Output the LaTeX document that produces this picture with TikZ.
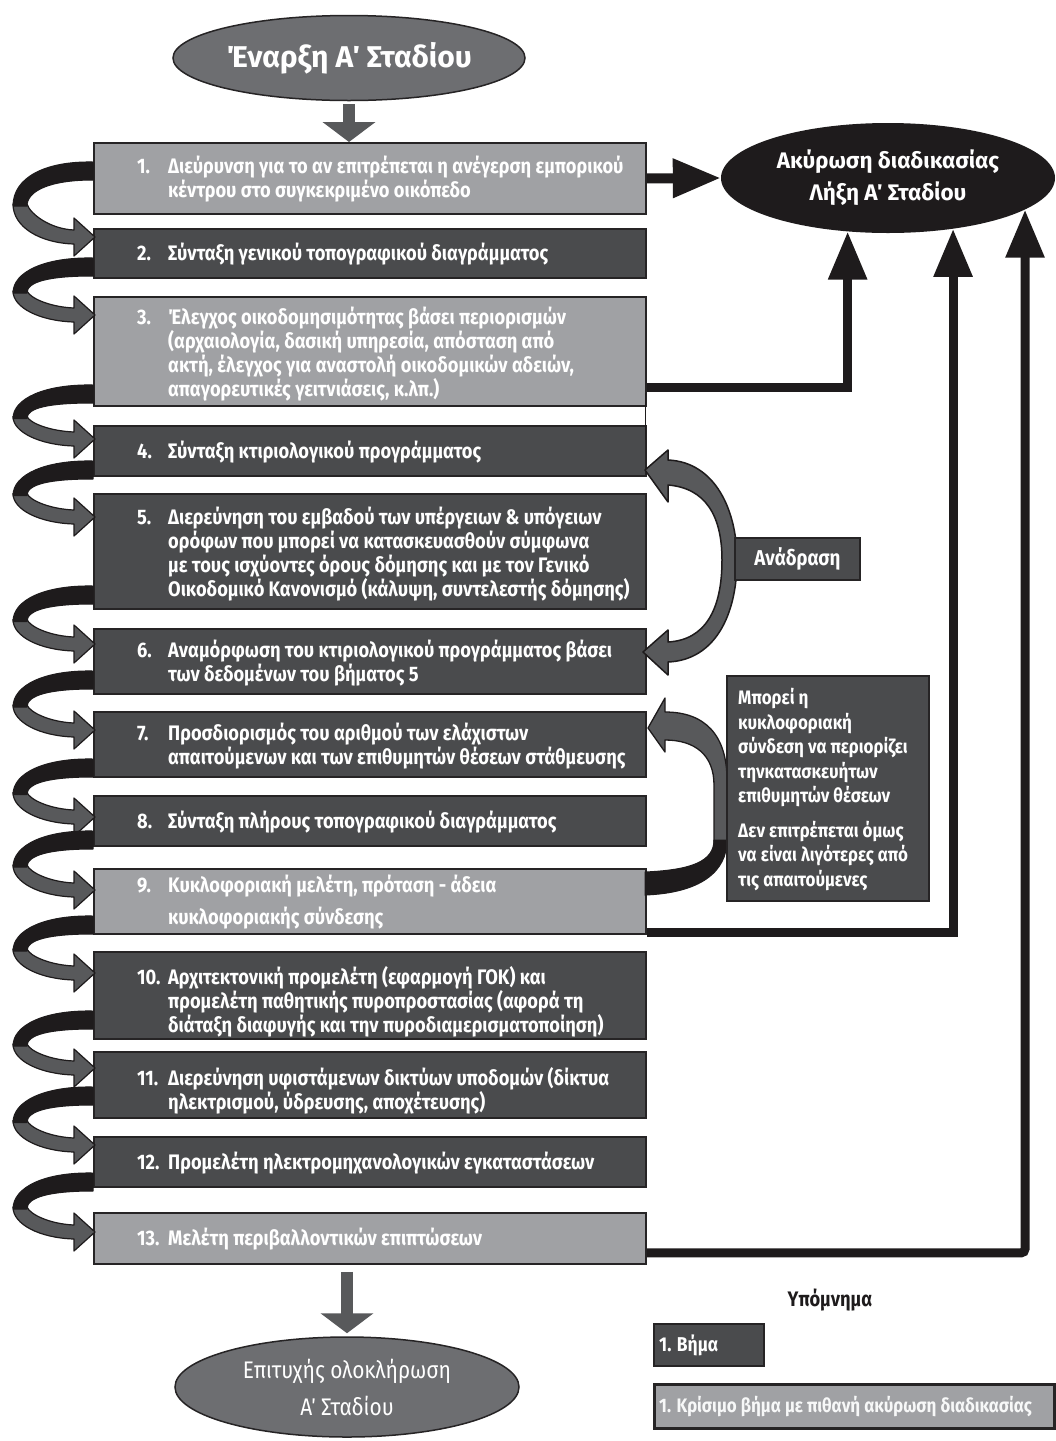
\documentclass[tikz,border=0pt]{standalone}
\usepackage{fontspec}
\setmainfont{Fira Sans}[FakeStretch=0.87]
\newfontfamily\plainfont{Fira Sans}
\usetikzlibrary{arrows.meta,shapes.geometric,calc}
\definecolor{lightbox}{HTML}{A0A1A4}
\definecolor{darkbox}{HTML}{4A4B4D}
\definecolor{edge}{HTML}{262425}
\definecolor{ellgray}{HTML}{6D6E71}
\definecolor{arrgray}{HTML}{58595B}
\definecolor{blk}{HTML}{1E1B1C}
\newcommand\stepnum[1]{\makebox[31pt][l]{#1}}
\newcommand\stepind{\hspace*{31pt}}
\begin{document}
\begin{tikzpicture}[x=1pt,y=-1pt,
  stepbox/.style={draw=edge, line width=1.8pt, minimum width=552pt, inner sep=0pt, anchor=north west},
  lightstep/.style={stepbox, fill=lightbox},
  darkstep/.style={stepbox, fill=darkbox},
  txt/.style={font=\bfseries\fontsize{21}{24}\selectfont, text=white, align=left, inner sep=0pt, anchor=west},
  grayarrow/.style={draw=arrgray, line width=12pt, -{Triangle[length=20pt,width=52pt]}},
  blackarrow/.style={draw=blk, line width=10pt, -{Triangle[length=48pt,width=37pt]}},
  ribbongray/.style={fill=arrgray, draw=blk, line width=1.2pt, line join=round},
  ribbonblack/.style={fill=blk, draw=blk, line width=1pt, line join=round}
]
\useasboundingbox (0,0) rectangle (1056,1441);
\fill[white] (0,0) rectangle (1056,1441);

% ellipses
\node[ellipse, draw=edge, line width=1.5pt, fill=ellgray, minimum width=352pt, minimum height=85pt, inner sep=0pt,
  text=white, font=\plainfont\bfseries\fontsize{30}{32}\selectfont] (start) at (349,58) {Έναρξη Α΄ Σταδίου};
\node[ellipse, fill=blk, minimum width=334pt, minimum height=110pt, inner sep=0pt, text=white, align=center,
  font=\plainfont\bfseries\fontsize{22.5}{32}\selectfont] (cancel) at (888,178) {Ακύρωση διαδικασίας\\Λήξη Α΄ Σταδίου};
\node[ellipse, draw=edge, line width=1.5pt, fill=ellgray, minimum width=344pt, minimum height=100pt, inner sep=0pt,
  text=white, align=center, font=\fontsize{24}{37}\selectfont] (finish) at (347,1387) {Επιτυχής ολοκλήρωση\\Α΄ Σταδίου};

% boxes
\node[lightstep, minimum height=71pt] (b1) at (93,142) {};
\node[darkstep, minimum height=49pt] (b2) at (93,228) {};
\node[lightstep, minimum height=109pt] (b3) at (93,296) {};
\node[darkstep, minimum height=50pt] (b4) at (93,425) {};
\node[darkstep, minimum height=115pt] (b5) at (93,493) {};
\node[darkstep, minimum height=65pt] (b6) at (93,628) {};
\node[darkstep, minimum height=65pt] (b7) at (93,711) {};
\node[darkstep, minimum height=50pt] (b8) at (93,795) {};
\node[lightstep, minimum height=65pt] (b9) at (93,868) {};
\node[darkstep, minimum height=87pt] (b10) at (93,951) {};
\node[darkstep, minimum height=66pt] (b11) at (93,1051) {};
\node[darkstep, minimum height=50pt] (b12) at (93,1136) {};
\node[lightstep, minimum height=51pt] (b13) at (93,1212) {};

% texts
\node[txt] (t1) at ($(b1.west)+(44,1)$) {\stepnum{1.}Διεύρυνση για το αν επιτρέπεται η ανέγερση εμπορικού\\\stepind κέντρου στο συγκεκριμένο οικόπεδο};
\node[txt] (t2) at ($(b2.west)+(44,1)$) {\stepnum{2.}Σύνταξη γενικού τοπογραφικού διαγράμματος};
\node[txt] (t3) at ($(b3.west)+(44,3)$) {\stepnum{3.}Έλεγχος οικοδομησιμότητας βάσει περιορισμών\\\stepind(αρχαιολογία, δασική υπηρεσία, απόσταση από\\\stepind ακτή, έλεγχος για αναστολή οικοδομικών αδειών,\\\stepind απαγορευτικές γειτνιάσεις, κ.λπ.)};
\node[txt] (t4) at ($(b4.west)+(44,1)$) {\stepnum{4.}Σύνταξη κτιριολογικού προγράμματος};
\node[txt] (t5) at ($(b5.west)+(44,3)$) {\stepnum{5.}Διερεύνηση του εμβαδού των υπέργειων \& υπόγειων\\\stepind ορόφων που μπορεί να κατασκευασθούν σύμφωνα\\\stepind με τους ισχύοντες όρους δόμησης και με τον Γενικό\\\stepind Οικοδομικό Κανονισμό (κάλυψη, συντελεστής δόμησης)};
\node[txt] (t6) at ($(b6.west)+(44,2)$) {\stepnum{6.}Αναμόρφωση του κτιριολογικού προγράμματος βάσει\\\stepind των δεδομένων του βήματος 5};
\node[txt] (t7) at ($(b7.west)+(44,2)$) {\stepnum{7.}Προσδιορισμός του αριθμού των ελάχιστων\\\stepind απαιτούμενων και των επιθυμητών θέσεων στάθμευσης};
\node[txt] (t8) at ($(b8.west)+(44,1)$) {\stepnum{8.}Σύνταξη πλήρους τοπογραφικού διαγράμματος};
\node[txt] (t9) at ($(b9.west)+(44,1)$) {\stepnum{9.}Κυκλοφοριακή μελέτη, πρόταση - άδεια\\[8pt]\stepind κυκλοφοριακής σύνδεσης};
\node[txt] (t10) at ($(b10.west)+(44,6)$) {\stepnum{10.}Αρχιτεκτονική προμελέτη (εφαρμογή ΓΟΚ) και\\\stepind προμελέτη παθητικής πυροπροστασίας (αφορά τη\\\stepind διάταξη διαφυγής και την πυροδιαμερισματοποίηση)};
\node[txt] (t11) at ($(b11.west)+(44,6)$) {\stepnum{11.}Διερεύνηση υφιστάμενων δικτύων υποδομών (δίκτυα\\\stepind ηλεκτρισμού, ύδρευσης, αποχέτευσης)};
\node[txt] (t12) at ($(b12.west)+(44,1)$) {\stepnum{12.}Προμελέτη ηλεκτρομηχανολογικών εγκαταστάσεων};
\node[txt] (t13) at ($(b13.west)+(44,1)$) {\stepnum{13.}Μελέτη περιβαλλοντικών επιπτώσεων};

% gray down arrows
\draw[grayarrow, shorten <=3pt] (start.south) -- (start.south |- b1.north);
\draw[grayarrow, shorten <=7pt, shorten >=3pt] (finish.north |- b13.south) -- (finish.north);

% left ribbon arrows between consecutive steps
\foreach \yb/\yt in {171/237, 267/315, 394/439, 470/517, 595/644, 680/730, 768/817, 840/890, 925/973, 1020/1068, 1096/1145, 1182/1232} {
  \pgfmathsetmacro\ymid{(\yb+\yt)/2}
  \pgfmathsetmacro\dd{\yt-\yb}
  \filldraw[ribbongray] (13,\ymid) .. controls (13,{\yt-0.15*\dd}) and (40,{\yt+6}) .. (74,{\yt+7})
    -- (74,{\yt+19}) -- (95,\yt) -- (74,{\yt-19}) -- (74,{\yt-7})
    .. controls (50,{\yt-8}) and (30,{\ymid+0.15*\dd}) .. (27,\ymid) -- cycle;
  \filldraw[ribbonblack] (93,{\yb-9}) .. controls (45,{\yb-10}) and (13,{\yb+0.1*\dd}) .. (13,{\ymid+2})
    -- (27,{\ymid+2}) .. controls (27,{\yb+0.3*\dd}) and (50,{\yb+9}) .. (93,{\yb+9}) -- cycle;
}

% cancellation arrows
\draw[blackarrow] (b1.east) -- (cancel.west);
\draw[blackarrow, line width=9pt] ($(b3.east)+(0,36.5)$) -| (cancel.-127);
\draw[blackarrow, line width=9pt] ($(b9.east)+(0,31.5)$) -| (cancel.-38);
\draw[blackarrow, line width=9pt, rounded corners=4pt] ($(b13.east)+(0,14.5)$) -| (cancel.-13);
\draw[line width=0.8pt, draw=blk] (645,393) -- (645,440);

% feedback arrow (Ανάδραση)
\filldraw[fill=arrgray, draw=blk, line width=1.5pt, line join=round]
  (668,460) .. controls (715,462) and (737,510) .. (737,560) .. controls (737,615) and (715,660) .. (668,662)
  -- (668,675) -- (643,652) -- (668,630) -- (668,642)
  .. controls (705,640) and (722,610) .. (722,560) .. controls (722,515) and (705,488) .. (668,485)
  -- (668,502) -- (645,470) -- (668,450) -- cycle;
\node[draw=edge, line width=1.5pt, fill=darkbox, minimum width=125pt, minimum height=42pt, inner sep=0pt,
  text=white, font=\bfseries\fontsize{21.5}{22}\selectfont] (fb) at (797.5,559) {Ανάδραση};

% feedback arrow from step 9 to step 7
\filldraw[fill=arrgray, draw=blk, line width=1.3pt, line join=round]
  (665,712) .. controls (705,712) and (727,735) .. (727,780) -- (727,845) -- (714,845) -- (714,785)
  .. controls (714,755) and (695,740) .. (665,740) -- (665,752) -- (648,728) -- (665,698) -- cycle;
\filldraw[fill=blk, draw=blk, line width=1pt]
  (727,840) .. controls (727,872) and (700,893) .. (645,895) -- (645,872)
  .. controls (690,870) and (714,862) .. (714,840) -- cycle;
\node[draw=edge, line width=1.5pt, fill=darkbox, minimum width=202pt, minimum height=225pt, inner sep=0pt,
  anchor=north west] (note) at (726,675) {};
\node[anchor=north west, inner sep=0pt, text=white, align=left, font=\bfseries\fontsize{19.5}{24.5}\selectfont] (notet) at (738,688)
  {Μπορεί η\\κυκλοφοριακή\\σύνδεση να περιορίζει\\τηνκατασκευήτων\\επιθυμητών θέσεων\\[10pt]Δεν επιτρέπεται όμως\\να είναι λιγότερες από\\τις απαιτούμενες};

% legend
\node[font=\bfseries\fontsize{21}{22}\selectfont, text=blk] (lgtitle) at (830,1300) {Υπόμνημα};
\node[draw=edge, line width=2pt, fill=darkbox, minimum width=110pt, minimum height=42pt, inner sep=0pt, anchor=north west] (lg1) at (653,1323) {};
\node[txt, font=\bfseries\fontsize{20}{22}\selectfont] (lg1t) at ($(lg1.west)+(6,0)$) {1. Βήμα};
\node[draw=edge, line width=3pt, fill=lightbox, minimum width=400pt, minimum height=44pt, inner sep=0pt, anchor=north west] (lg2) at (653,1383) {};
\node[txt, font=\bfseries\fontsize{19.5}{22}\selectfont, text=white!92!lightbox] (lg2t) at ($(lg2.west)+(6,0)$) {1. Κρίσιμο βήμα με πιθανή ακύρωση διαδικασίας};
\end{tikzpicture}
\end{document}
